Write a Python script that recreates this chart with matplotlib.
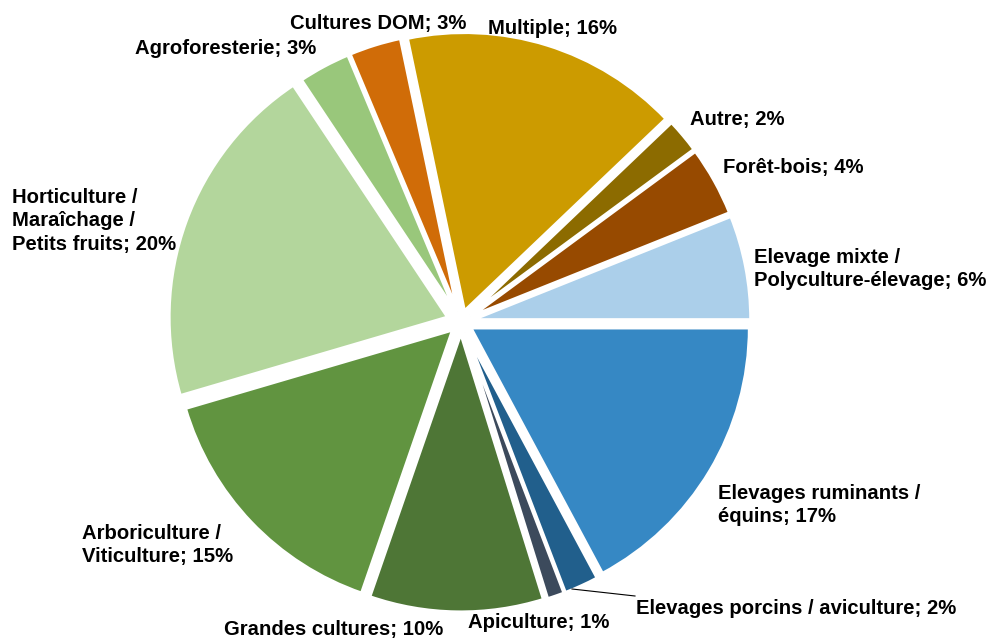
import matplotlib.pyplot as plt

# shares by production type, clockwise from 3 o'clock
categories = [
    "Elevages ruminants /\néquins",
    "Elevages porcins / aviculture",
    "Apiculture",
    "Grandes cultures",
    "Arboriculture /\nViticulture",
    "Horticulture /\nMaraîchage /\nPetits fruits",
    "Agroforesterie",
    "Cultures DOM",
    "Multiple",
    "Autre",
    "Forêt-bois",
    "Elevage mixte /\nPolyculture-élevage",
]
shares = [17, 2, 1, 10, 15, 20, 3, 3, 16, 2, 4, 6]

colors = [
    "#3688c4", "#215f8c", "#3c4a5c", "#4e7636", "#619440", "#b3d69c",
    "#99c77b", "#d06c08", "#cc9b00", "#8c6b00", "#974a00", "#abcfea",
]

# label anchor points in pixels (left edge, vertical centre)
label_px = [
    (718, 505), (636, 609), (468, 622), (224, 630), (82, 545), (12, 221),
    (135, 48), (290, 23), (488, 29), (690, 120), (723, 168), (754, 269),
]

W, H = 992, 639
cx, cy, R = 461, 322, 279

plt.rcParams["font.family"] = ["Liberation Sans", "DejaVu Sans"]

fig = plt.figure(figsize=(W / 100, H / 100), dpi=100)
ax = fig.add_axes([0, 0, 1, 1])

wedges, _ = ax.pie(
    shares,
    colors=colors,
    startangle=0,
    counterclock=False,
    explode=[0.04, 0.04, 0.04, 0.04, 0.04, 0.05, 0.04, 0.04, 0.04, 0.04, 0.04, 0.04],
    radius=1.0,
    wedgeprops=dict(edgecolor="white", linewidth=2.5),
)

ax.set_xlim(-cx / R, (W - cx) / R)
ax.set_ylim(-(H - cy) / R, cy / R)
ax.set_aspect("auto")
ax.axis("off")


def to_data(px, py):
    return (px - cx) / R, (cy - py) / R


for name, pct, (px, py) in zip(categories, shares, label_px):
    x, y = to_data(px, py)
    ax.text(x, y, f"{name}; {pct}%", ha="left", va="center",
            fontsize=14.6, fontweight="bold", linespacing=1.28)

# leader line for the small porcins slice
x0, y0 = to_data(572, 589)
x1, y1 = to_data(635, 596)
ax.plot([x0, x1], [y0, y1], color="black", linewidth=0.8)

fig.savefig("out.png", dpi=100)
